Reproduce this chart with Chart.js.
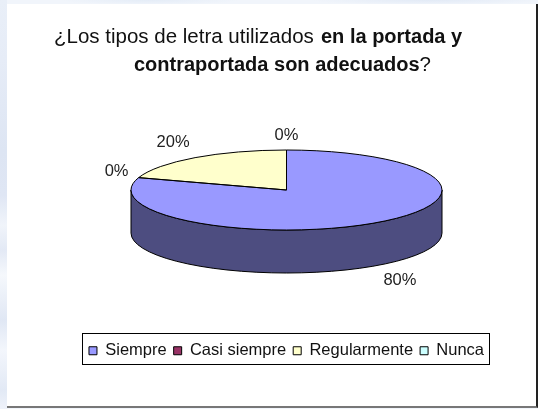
<!DOCTYPE html>
<html><head><meta charset="utf-8">
<script src="https://cdn.jsdelivr.net/npm/chart.js@4"></script>
<style>
html,body{margin:0;padding:0;width:538px;height:409px;overflow:hidden}
body{position:relative;background:
 linear-gradient(to bottom,#e9eff8 0,#e6ecf7 60px,#dde5f3 150px,#dfe6f4 195px,#f0f4fa 225px,#e3e9f5 250px,#f5f8fc 275px,#e0e7f4 320px,#f3f6fc 350px,#e2e9f5 390px,#eef2fa 409px) 0 0/7px 100% no-repeat,
 radial-gradient(ellipse 90px 5px at 150px 0,#e4ecf7,transparent),
 radial-gradient(ellipse 120px 5px at 430px 0,#e2eaf6,transparent),
 #f1f5fb}
#panel{position:absolute;left:7px;top:4px;width:529px;height:402px;background:#fff;border-right:2px solid #222;border-bottom:2px solid #777;box-sizing:content-box}
#c{position:absolute;left:0;top:0}
</style></head><body>
<div id="panel"></div>
<canvas id="c" width="538" height="409"></canvas>
<script>
const categories=["Siempre","Casi siempre","Regularmente","Nunca"];
const values=[80,0,20,0];
const colors=["#9999FF","#993366","#FFFFCC","#CCFFFF"];
const sideColors=["#4D4D80","#4D1A33","#808066","#668080"];
const RY=40, RX=155.5, DEPTH=43, FONT='"Liberation Sans",Arial,sans-serif';
const three={
 id:'three',
 beforeDatasetsDraw(chart){
  const ctx=chart.ctx, arcs=chart.getDatasetMeta(0).data;
  arcs.forEach((a,i)=>{
   const s=Math.max(a.startAngle,0), e=Math.min(a.endAngle,Math.PI);
   if(a.circumference<=0||e<=s)return;
   ctx.beginPath();
   ctx.ellipse(a.x,a.y,a.outerRadius,RY,0,s,e);
   ctx.ellipse(a.x,a.y+DEPTH,a.outerRadius,RY,0,e,s,true);
   ctx.closePath();
   ctx.fillStyle=sideColors[i];ctx.fill();
   ctx.strokeStyle='#000';ctx.lineWidth=1;ctx.stroke();
  });
  const a=arcs[0];
  ctx.save();
  ctx.translate(a.x,a.y);ctx.scale(1,RY/a.outerRadius);ctx.translate(-a.x,-a.y);
 },
 afterDatasetsDraw(chart){
  const ctx=chart.ctx, arcs=chart.getDatasetMeta(0).data;
  ctx.restore();
  arcs.forEach(a=>{
   if(a.circumference<=0)return;
   ctx.beginPath();
   ctx.moveTo(a.x,a.y);
   ctx.ellipse(a.x,a.y,a.outerRadius,RY,0,a.startAngle,a.endAngle);
   ctx.closePath();
   ctx.strokeStyle='#000';ctx.lineWidth=1;ctx.stroke();
  });
  ctx.font='16.5px '+FONT;ctx.fillStyle='#222';ctx.textAlign='center';ctx.textBaseline='middle';
  arcs.forEach((a,i)=>{
   const m=(a.startAngle+a.endAngle)/2,c=Math.cos(m),sn=Math.sin(m);
   const dx=Math.abs(c)<.01?0:22*Math.sign(c);
   const dy=15*Math.sign(sn)*Math.min(1,Math.abs(sn)/.8);
   const wall=sn>0?DEPTH:0;
   ctx.fillText(values[i]+'%',a.x+a.outerRadius*c+dx,a.y+RY*sn+wall+dy);
  });
 },
 afterDraw(chart){
  const ctx=chart.ctx;
  ctx.strokeStyle='#000';ctx.lineWidth=1;
  ctx.strokeRect(82.5,333.5,407,31);
  ctx.textAlign='left';ctx.textBaseline='alphabetic';ctx.fillStyle='#111';
  ctx.font='20.5px '+FONT;ctx.fillText('¿Los tipos de letra utilizados',54,43);
  ctx.font='bold 20px '+FONT;ctx.fillText('en la portada y',321,43);
  ctx.fillText('contraportada son adecuados',134,71);
  const w=ctx.measureText('contraportada son adecuados').width;
  ctx.font='20.5px '+FONT;ctx.fillText('?',134+w,71);
 }
};
new Chart(document.getElementById('c'),{
 type:'pie',
 data:{labels:categories,datasets:[{data:values,backgroundColor:colors,borderWidth:0,clip:false}]},
 options:{
  responsive:false,animation:false,radius:RX,
  layout:{padding:{left:35,right:0,top:44.5,bottom:40}},
  plugins:{
   title:{display:false},tooltip:{enabled:false},
   legend:{position:'bottom',labels:{
    boxWidth:8,boxHeight:8,padding:7,color:'#111',font:{family:FONT,size:16.5},
    generateLabels(chart){
     return Chart.overrides.pie.plugins.legend.labels.generateLabels(chart).map(x=>Object.assign(x,{lineWidth:1,strokeStyle:'#000'}));
    }
   }}
  }
 },
 plugins:[three]
});
</script>
</body></html>
